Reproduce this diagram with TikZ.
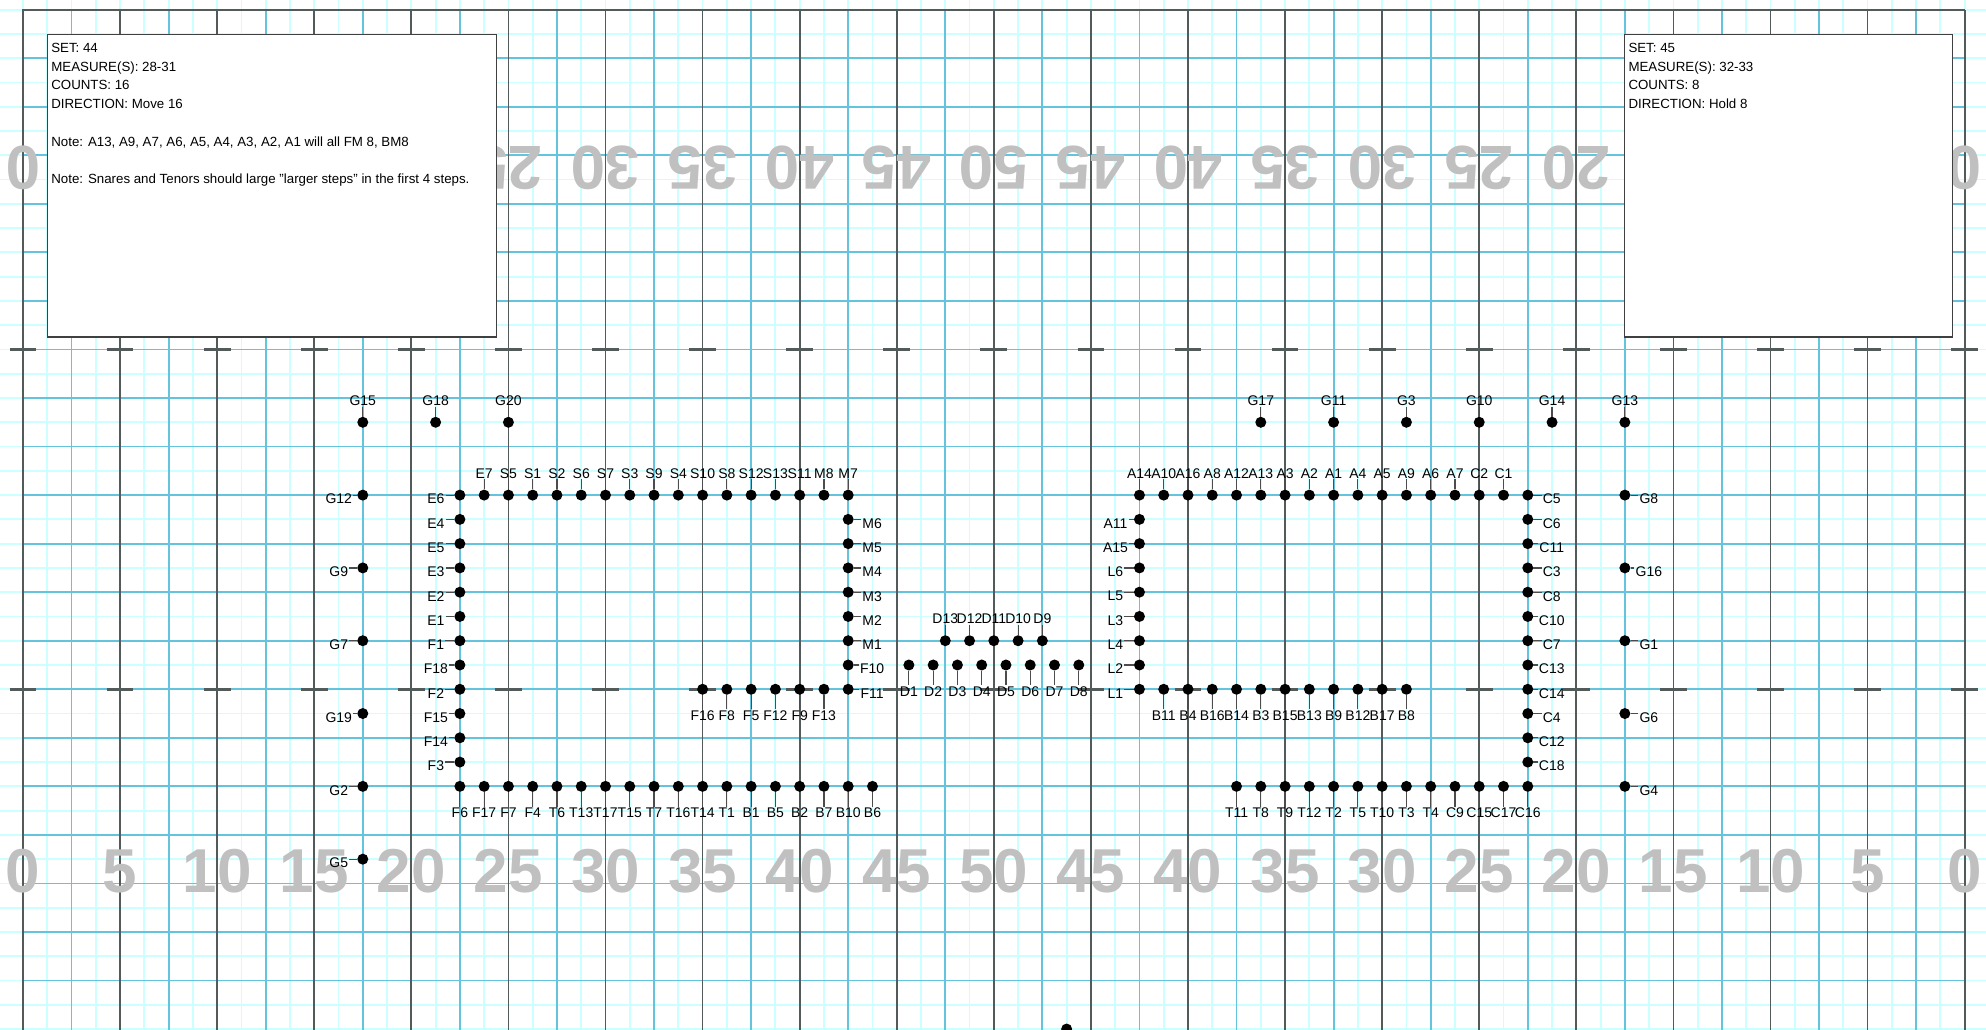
\documentclass[tikz,border=0pt]{standalone}
\usepackage{fontspec}
\setmainfont{Liberation Sans}
\usepackage{tikz}
\usetikzlibrary{positioning, calc}

\definecolor{gridfine}{RGB}{204,255,255}
\definecolor{gridblue}{RGB}{100,196,222}
\definecolor{gridline}{RGB}{82,90,90}
\definecolor{yardgray}{RGB}{192,192,192}

\begin{document}
\begin{tikzpicture}[
    x=24.27pt, y=24.27pt,
    fineln/.style={draw=gridfine, line width=1.8pt},
    blueln/.style={draw=gridblue, line width=1.8pt},
    yardln/.style={draw=gridline, line width=1.8pt},
    hashmk/.style={draw=gridline, line width=2.8pt},
    yardnum/.style={font=\fontsize{62}{62}\selectfont\bfseries, text=yardgray, inner sep=0pt},
    dot/.style={circle, fill=black, minimum size=11pt, inner sep=0pt},
    lab/.style={font=\fontsize{14}{16}\selectfont, inner sep=1pt},
    leader/.style={draw=black!70, line width=1.2pt},
    infobox/.style={rectangle, draw=black!75, line width=1.3pt, fill=white, inner sep=0pt},
    infotext/.style={font=\fontsize{13.3}{18.8}\selectfont, align=left, inner sep=0pt}
]
\useasboundingbox (-0.948,0) rectangle (80.88,42.40);

\foreach \i in {-1,...,81} \draw[fineln] (\i,-0.5) -- (\i,43);
\foreach \j in {0,...,42} \draw[fineln] (-1.5,\j) -- (81.5,\j);
\foreach \i in {2,6,...,78} \draw[blueln] (\i,-0.5) -- (\i,42);
\foreach \j in {2,4,...,40} \draw[blueln] (0,\j) -- (80,\j);
\foreach \i in {0,4,...,80} \draw[yardln] (\i,-0.5) -- (\i,42);
\draw[yardln] (-0.03,42) -- (80.03,42);
\foreach \i in {0,4,...,80} {
  \draw[hashmk] (\i-0.55,14) -- (\i+0.55,14);
  \draw[hashmk] (\i-0.55,28) -- (\i+0.55,28);
}

\foreach \i/\t in {0/0,4/5,8/10,12/15,16/20,20/25,24/30,28/35,32/40,36/45,40/50,
                   44/45,48/40,52/35,56/30,60/25,64/20,68/15,72/10,76/5,80/0} {
  \node[yardnum] (yb\i) at (\i,6.5) {\t};
  \node[yardnum, rotate=180] (yt\i) at (\i,35.5) {\t};
}

\node[infobox, minimum width=449pt, minimum height=302.3pt] (set44) at (10.27,34.74) {};
\node[infotext, anchor=north west] (set44txt) at ([xshift=4pt, yshift=-8.7pt]set44.north west)
  {SET: 44\\ MEASURE(S): 28-31\\ COUNTS: 16\\ DIRECTION: Move 16\\[18.8pt]
   Note: A13, A9, A7, A6, A5, A4, A3, A2, A1 will all FM 8, BM8\\[18.8pt]
   Note: Snares and Tenors should large "larger steps" in the first 4 steps.};

\node[infobox, minimum width=328.4pt, minimum height=302.3pt] (set45) at (72.74,34.74) {};
\node[infotext, anchor=north west] (set45txt) at ([xshift=4.7pt, yshift=-8.7pt]set45.north west)
  {SET: 45\\ MEASURE(S): 32-33\\ COUNTS: 8\\ DIRECTION: Hold 8};

\foreach \n/\x/\y in {G15/14/25, G18/17/25, G20/20/25, G17/51/25, G11/54/25, G3/57/25,
    G10/60/25, G14/63/25, G13/66/25,
    E7/19/22, S5/20/22, S1/21/22, S2/22/22, S6/23/22, S7/24/22, S3/25/22, S9/26/22,
    S4/27/22, S10/28/22, S8/29/22, S12/30/22, S13/31/22, S11/32/22, M8/33/22, M7/34/22,
    A14/46/22, A10/47/22, A16/48/22, A8/49/22, A12/50/22, A13/51/22, A3/52/22, A2/53/22,
    A1/54/22, A4/55/22, A5/56/22, A9/57/22, A6/58/22, A7/59/22, C2/60/22, C1/61/22,
    D13/38/16, D12/39/16, D11/40/16, D10/41/16, D9/42/16} {
  \node[dot] (\n) at (\x,\y) {};
  \node[lab, above=10pt of \n] (\n-t) {\n};
  \draw[leader] (\n) -- (\n-t.south);
}

\foreach \n/\x/\y in {F6/18/10, F17/19/10, F7/20/10, F4/21/10, T6/22/10, T13/23/10,
    T17/24/10, T15/25/10, T7/26/10, T16/27/10, T14/28/10, T1/29/10, B1/30/10, B5/31/10,
    B2/32/10, B7/33/10, B10/34/10, B6/35/10,
    F16/28/14, F8/29/14, F5/30/14, F12/31/14, F9/32/14, F13/33/14,
    D1/36.5/15, D2/37.5/15, D3/38.5/15, D4/39.5/15, D5/40.5/15, D6/41.5/15, D7/42.5/15,
    D8/43.5/15,
    B11/47/14, B4/48/14, B16/49/14, B14/50/14, B3/51/14, B15/52/14, B13/53/14, B9/54/14,
    B12/55/14, B17/56/14, B8/57/14,
    T11/50/10, T8/51/10, T9/52/10, T12/53/10, T2/54/10, T5/55/10, T10/56/10, T3/57/10,
    T4/58/10, C9/59/10, C15/60/10, C17/61/10, C16/62/10} {
  \node[dot] (\n) at (\x,\y) {};
  \node[lab, below=14.5pt of \n] (\n-t) {\n};
  \draw[leader] (\n) -- (\n-t.north);
}

\foreach \n/\x/\y in {G12/14/22, G9/14/19, G7/14/16, G19/14/13, G2/14/10, G5/14/7,
    E6/18/22, E4/18/21, E5/18/20, E3/18/19, E2/18/18, E1/18/17, F1/18/16, F18/18/15,
    F2/18/14, F15/18/13, F14/18/12, F3/18/11,
    A11/46/21, A15/46/20, L6/46/19, L5/46/18, L3/46/17, L4/46/16, L2/46/15, L1/46/14} {
  \node[dot] (\n) at (\x,\y) {};
  \node[lab, xshift=-24pt, yshift=-4pt] (\n-t) at (\n) {\n};
  \draw[leader] (\n) -- (\n-t.east |- \n);
}

\foreach \n/\x/\y in {M6/34/21, M5/34/20, M4/34/19, M3/34/18, M2/34/17, M1/34/16,
    F10/34/15, F11/34/14,
    C5/62/22, C6/62/21, C11/62/20, C3/62/19, C8/62/18, C10/62/17, C7/62/16, C13/62/15,
    C14/62/14, C4/62/13, C12/62/12, C18/62/11,
    G8/66/22, G16/66/19, G1/66/16, G6/66/13, G4/66/10} {
  \node[dot] (\n) at (\x,\y) {};
  \node[lab, xshift=24pt, yshift=-4pt] (\n-t) at (\n) {\n};
  \draw[leader] (\n) -- (\n-t.west |- \n);
}

\node[dot] (dm) at (43,0) {};

\end{tikzpicture}
\end{document}
